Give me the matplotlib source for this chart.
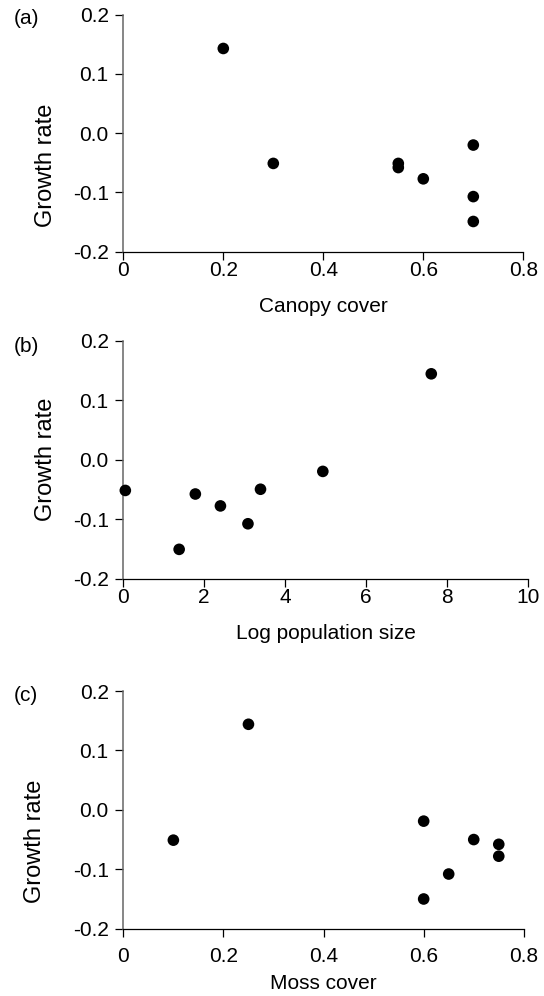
import matplotlib

matplotlib.use("Agg")
import matplotlib.pyplot as plt  # noqa: E402

# Growth rate against three site covariates.
canopy_cover = [0.20, 0.30, 0.55, 0.55, 0.60, 0.70, 0.70, 0.70]
growth_canopy = [0.143, -0.051, -0.051, -0.058, -0.077, -0.020, -0.107, -0.149]

log_pop_size = [0.05, 1.38, 1.78, 2.40, 3.08, 3.39, 4.93, 7.61]
growth_pop = [-0.052, -0.151, -0.058, -0.078, -0.108, -0.050, -0.020, 0.144]

moss_cover = [0.10, 0.25, 0.60, 0.60, 0.65, 0.70, 0.75, 0.75]
growth_moss = [-0.051, 0.144, -0.019, -0.150, -0.108, -0.050, -0.058, -0.078]

y_ticks = [-0.2, -0.1, 0.0, 0.1, 0.2]
y_ticklabels = ["-0.2", "-0.1", "0.0", "0.1", "0.2"]
cover_ticks = [0, 0.2, 0.4, 0.6, 0.8]
cover_ticklabels = ["0", "0.2", "0.4", "0.6", "0.8"]
pop_ticks = [0, 2, 4, 6, 8, 10]
pop_ticklabels = ["0", "2", "4", "6", "8", "10"]

plt.rcParams["font.family"] = ["Liberation Sans", "DejaVu Sans"]
plt.rcParams["axes.unicode_minus"] = False

W, H = 544, 996
fig = plt.figure(figsize=(W / 100, H / 100), dpi=100)


def px_axes(left, right, top, bottom):
    return fig.add_axes([left / W, 1 - bottom / H, (right - left) / W, (bottom - top) / H])


# rect is (left, right, top, bottom) in pixels
panels = [
    dict(rect=(123.3, 523.3, 14.7, 251.7), x=canopy_cover, y=growth_canopy,
         xlim=(0, 0.8), xt=cover_ticks, xtl=cover_ticklabels,
         xlabel="Canopy cover", tag="(a)", tag_dy=4,
         ylab=(-0.165, 0.366), xpad=1, labelpad=12),
    dict(rect=(123.3, 528.0, 340.5, 578.5), x=log_pop_size, y=growth_pop,
         xlim=(0, 10), xt=pop_ticks, xtl=pop_ticklabels,
         xlabel="Log population size", tag="(b)", tag_dy=6,
         ylab=(-0.163, 0.5), xpad=1, labelpad=12),
    dict(rect=(123.3, 523.8, 691.0, 928.7), x=moss_cover, y=growth_moss,
         xlim=(0, 0.8), xt=cover_ticks, xtl=cover_ticklabels,
         xlabel="Moss cover", tag="(c)", tag_dy=4,
         ylab=(-0.194, 0.366), xpad=7, labelpad=6),
]

for p in panels:
    left, right, top, bottom = p["rect"]
    ax = px_axes(left, right, top, bottom)
    ax.scatter(p["x"], p["y"], s=70, color="black", edgecolors="none", clip_on=False, zorder=3)
    ax.set_xlim(*p["xlim"])
    ax.set_ylim(-0.2, 0.2)
    ax.set_xticks(p["xt"])
    ax.set_xticklabels(p["xtl"])
    ax.set_yticks(y_ticks)
    ax.set_yticklabels(y_ticklabels)
    for side in ("top", "right"):
        ax.spines[side].set_visible(False)
    ax.spines["left"].set_color("0.4")
    ax.spines["left"].set_linewidth(1.1)
    ax.spines["bottom"].set_color("black")
    ax.spines["bottom"].set_linewidth(0.9)
    ax.tick_params(axis="both", direction="out", length=6, width=0.9,
                   color="black", labelsize=15)
    ax.tick_params(axis="y", pad=4.5)
    ax.tick_params(axis="x", pad=p["xpad"])
    ax.set_xlabel(p["xlabel"], fontsize=15, labelpad=p["labelpad"])
    ax.set_ylabel("Growth rate", fontsize=17)
    ax.yaxis.set_label_coords(*p["ylab"])
    fig.text(14 / W, 1 - (top + p["tag_dy"]) / H, p["tag"], fontsize=15, ha="left", va="center")

fig.savefig("out.png", dpi=100)
